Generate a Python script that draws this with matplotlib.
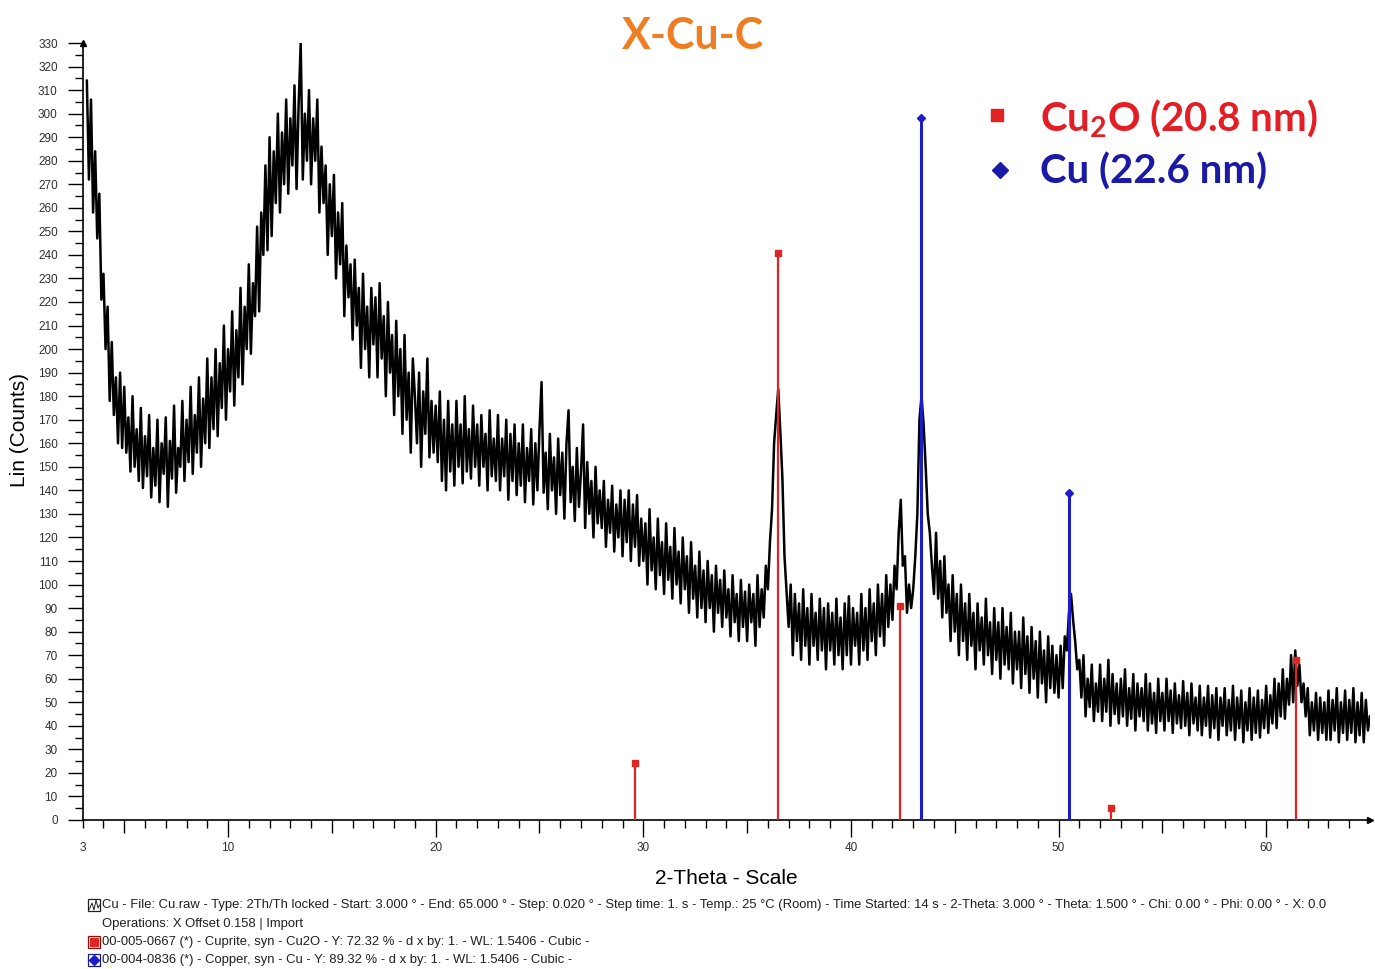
import numpy as np
import matplotlib
matplotlib.use('Agg')
import matplotlib.pyplot as plt
from matplotlib.ticker import MultipleLocator
from matplotlib.lines import Line2D
from matplotlib.patches import Rectangle

# scan counts, 0.1 deg steps from 3.2 to 65.0 (2-theta)
counts_03 = [
    314, 272, 306, 258, 284, 247, 266, 221,
    232, 200, 218, 178, 203, 172, 188, 160, 190, 158,
    184, 156, 171, 148, 180, 150, 166, 144, 175, 141,
    163, 146, 172, 137, 158, 142, 170, 135, 160, 147,
    171, 133, 161, 145, 176, 139, 158, 150, 178, 144,
    170, 152, 184, 147, 172, 156, 188, 150, 179, 160,
    196, 158, 188, 166, 200, 163, 194, 175, 210, 170,
]
counts_10 = [
    200, 182, 216, 176, 208, 188, 226, 185, 218, 200,
    236, 198, 228, 214, 252, 216, 258, 240, 278, 242,
    290, 248, 284, 262, 300, 258, 292, 270, 306, 266,
    298, 278, 312, 268, 304, 330, 272, 300, 280, 310,
    270, 298, 280, 306, 258, 286, 262, 278, 240, 270,
    248, 274, 230, 258, 236, 262, 214, 244, 222, 236,
    204, 238, 210, 226, 192, 232, 200, 218, 188, 226,
    202, 222, 188, 228, 196, 214, 180, 220, 190, 206,
    172, 212, 180, 200, 164, 206, 170, 190, 156, 196,
    180, 160, 190, 150, 182, 164, 196, 154, 178, 156,
]
counts_20 = [
    176, 152, 182, 144, 170, 140, 178, 148, 168, 142,
    178, 150, 168, 143, 180, 148, 166, 145, 176, 150,
    168, 142, 172, 150, 164, 140, 174, 146, 162, 144,
    172, 140, 162, 146, 170, 136, 164, 144, 168, 138,
    160, 142, 168, 135, 158, 144, 166, 134, 160, 140,
    166, 186, 139, 156, 132, 164, 140, 154, 130, 162,
    138, 156, 128, 160, 174, 135, 150, 127, 158, 133,
    148, 168, 124, 152, 130, 144, 120, 150, 126, 140,
    124, 144, 116, 136, 122, 142, 114, 134, 120, 140,
    112, 136, 118, 140, 110, 134, 116, 138, 108, 128,
]
counts_30 = [
    110, 126, 100, 132, 106, 120, 98, 128, 104, 118,
    96, 126, 102, 116, 94, 124, 100, 114, 92, 120,
    98, 112, 88, 118, 94, 108, 86, 114, 90, 106,
    84, 110, 90, 104, 80, 108, 88, 102, 82, 106,
    86, 98, 78, 104, 84, 96, 76, 102, 82, 97,
    76, 100, 84, 96, 74, 104, 82, 98, 86, 108,
    98, 118, 132, 160, 172, 183, 165, 145, 112, 97,
    82, 100, 70, 96, 76, 92, 68, 98, 74, 90,
    66, 96, 74, 88, 68, 94, 72, 90, 64, 92,
    72, 88, 66, 94, 70, 86, 64, 92, 70, 95,
]
counts_40 = [
    66, 90, 74, 88, 66, 96, 72, 90, 68, 98,
    76, 92, 70, 100, 78, 96, 74, 104, 82, 100,
    85, 108, 98, 122, 136, 108, 112, 88, 100, 90,
    98, 112, 130, 170, 180, 168, 150, 130, 122, 108,
    96, 122, 94, 110, 86, 112, 88, 100, 76, 104,
    80, 96, 70, 100, 76, 92, 68, 96, 74, 88,
    64, 92, 72, 86, 66, 94, 70, 84, 62, 90,
    68, 84, 60, 90, 66, 82, 64, 88, 58, 80,
    64, 80, 56, 86, 62, 78, 54, 82, 60, 76,
    52, 80, 58, 72, 50, 78, 56, 74, 54, 70,
]
counts_50 = [
    52, 74, 56, 78, 72, 88, 96, 85, 76, 64,
    68, 52, 70, 44, 60, 48, 66, 42, 58, 46,
    66, 42, 60, 46, 68, 40, 62, 45, 58, 41,
    60, 44, 64, 40, 56, 43, 62, 38, 58, 44,
    56, 42, 62, 38, 58, 41, 54, 37, 60, 42,
    54, 38, 60, 42, 55, 37, 58, 41, 53, 39,
    59, 40, 54, 36, 58, 41, 52, 38, 57, 36,
    52, 40, 57, 35, 53, 39, 56, 34, 52, 40,
    56, 36, 51, 38, 57, 34, 52, 39, 55, 33,
    50, 38, 56, 34, 52, 37, 55, 35, 51, 39,
]
counts_60 = [
    57, 37, 53, 41, 60, 39, 58, 44, 64, 43,
    60, 49, 70, 50, 72, 57, 66, 50, 58, 44,
    56, 36, 50, 38, 54, 34, 52, 37, 50, 34,
    55, 34, 51, 38, 56, 33, 50, 37, 55, 34,
    51, 37, 56, 33, 50, 36, 54, 33, 51, 38,
    44,
]

# reference patterns (stick positions / intensities)
cu2o_pos = [29.62, 36.50, 42.35, 52.52, 61.42]
cu2o_int = [24, 241, 91, 5, 68]
cu_pos = [43.36, 50.48]
cu_int = [298, 139]

x_major = [10, 20, 30, 40, 50, 60]
x_medium = [5, 15, 25, 35, 45, 55]

counts = np.array(counts_03 + counts_10 + counts_20 + counts_30 +
                  counts_40 + counts_50 + counts_60)
two_theta = np.linspace(3.2, 65.0, len(counts))

plt.rcParams['font.family'] = ['Liberation Sans', 'DejaVu Sans']
plt.rcParams['mathtext.fontset'] = 'custom'
plt.rcParams['mathtext.bf'] = 'Lato:bold'
plt.rcParams['mathtext.rm'] = 'Lato'

W, H = 1375, 969
fig = plt.figure(figsize=(W / 100, H / 100), dpi=100)
ax = fig.add_axes([82.7 / W, 1 - 820 / H, (1370 - 82.7) / W, (820 - 43) / H])

red = '#e02424'
blue = '#1c1cc8'

ax.plot(two_theta, counts, color='black', lw=1.8, zorder=2)
ax.vlines(cu2o_pos, 0, cu2o_int, color=red, lw=1.6, zorder=3)
ax.plot(cu2o_pos, cu2o_int, 's', color=red, ms=5, zorder=4)
ax.vlines(cu_pos, 0, cu_int, color=blue, lw=2.2, zorder=3)
ax.plot(cu_pos, cu_int, 'D', color=blue, ms=4.5, zorder=4)

ax.set_xlim(3, 65)
ax.set_ylim(0, 330)
for s in ['top', 'right']:
    ax.spines[s].set_visible(False)
for s in ['left', 'bottom']:
    ax.spines[s].set_linewidth(1.2)

# axis arrows
ax.plot([0], [1], marker='^', color='black', ms=5, transform=ax.transAxes, clip_on=False)
ax.plot([1], [0], marker='>', color='black', ms=5, transform=ax.transAxes, clip_on=False)

tick_col = '#303030'
ax.yaxis.set_major_locator(MultipleLocator(10))
ax.yaxis.set_minor_locator(MultipleLocator(5))
ax.tick_params(axis='y', which='major', length=11, width=1, labelsize=8.5,
               pad=7, labelcolor=tick_col)
ax.tick_params(axis='y', which='minor', length=6, width=1)

x_minor = [v for v in range(3, 65) if v not in x_major and v not in x_medium]
ax.set_xticks(x_major, [str(v) for v in x_major])
ax.set_xticks(x_minor, ['3' if v == 3 else '' for v in x_minor], minor=True)
ax.tick_params(axis='x', which='major', length=12, width=1, labelsize=8.5,
               pad=4, labelcolor=tick_col)
ax.tick_params(axis='x', which='minor', length=6, width=1, labelsize=8.5,
               pad=10, labelcolor=tick_col)
sec = ax.secondary_xaxis('bottom')
sec.set_xticks(x_medium, [''] * len(x_medium))
sec.tick_params(length=9, width=1)
sec.spines['bottom'].set_visible(False)

fig.text(20 / W, 1 - 430 / H, 'Lin (Counts)', rotation=90, ha='center', va='center', fontsize=15)
fig.text(726 / W, 1 - 878 / H, '2-Theta - Scale', ha='center', va='center', fontsize=15)

fig.text(693 / W, 1 - 36 / H, 'X-Cu-C', ha='center', va='center', fontsize=31,
         fontweight='bold', color='#ef7d22', family='Lato')

# legend
fig.add_artist(Line2D([997 / W], [1 - 115 / H], marker='s', ms=9, color=red,
                      transform=fig.transFigure))
fig.add_artist(Line2D([1000 / W], [1 - 170 / H], marker='D', ms=8, color='#1a1aa6',
                      transform=fig.transFigure))
fig.text(1040 / W, 1 - 118 / H, r'Cu$\mathbf{_2}$O (20.8 nm)', ha='left', va='center',
         fontsize=29, fontweight='bold', color='#e31e24', family='Lato')
fig.text(1040 / W, 1 - 172 / H, 'Cu (22.6 nm)', ha='left', va='center',
         fontsize=29, fontweight='bold', color='#1a1aa6', family='Lato')

# footer: scan and pattern info
foot = [
    'Cu - File: Cu.raw - Type: 2Th/Th locked - Start: 3.000 \u00b0 - End: 65.000 \u00b0 - '
    'Step: 0.020 \u00b0 - Step time: 1. s - Temp.: 25 \u00b0C (Room) - Time Started: 14 s - '
    '2-Theta: 3.000 \u00b0 - Theta: 1.500 \u00b0 - Chi: 0.00 \u00b0 - Phi: 0.00 \u00b0 - X: 0.0',
    'Operations: X Offset 0.158 | Import',
    '00-005-0667 (*) - Cuprite, syn - Cu2O - Y: 72.32 % - d x by: 1. - WL: 1.5406 - Cubic -',
    '00-004-0836 (*) - Copper, syn - Cu - Y: 89.32 % - d x by: 1. - WL: 1.5406 - Cubic -',
]
foot_y = [905, 924, 942, 960]
for txt, yy in zip(foot, foot_y):
    fig.text(102 / W, 1 - yy / H, txt, ha='left', va='center', fontsize=9.4, color='#202020')

box_w, box_h = 12 / W, 12 / H
for yy, ec in [(905, '#202020'), (942, '#8a1010'), (960, '#1a1a90')]:
    fig.add_artist(Rectangle((88 / W, 1 - (yy + 6) / H), box_w, box_h, fill=False,
                             ec=ec, lw=0.9, transform=fig.transFigure))
fig.add_artist(Line2D([89.5 / W, 92 / W, 94 / W, 96 / W, 98 / W, 99.5 / W],
                      [1 - 909 / H, 1 - 903 / H, 1 - 910 / H, 1 - 900 / H, 1 - 908 / H, 1 - 905 / H],
                      color='#202020', lw=0.7, transform=fig.transFigure))
fig.add_artist(Line2D([94 / W], [1 - 942 / H], marker='s', ms=6, color=red,
                      transform=fig.transFigure))
fig.add_artist(Line2D([94 / W], [1 - 960 / H], marker='D', ms=5, color='#1c1cc8',
                      transform=fig.transFigure))

fig.savefig('out.png', dpi=100, facecolor='white')
